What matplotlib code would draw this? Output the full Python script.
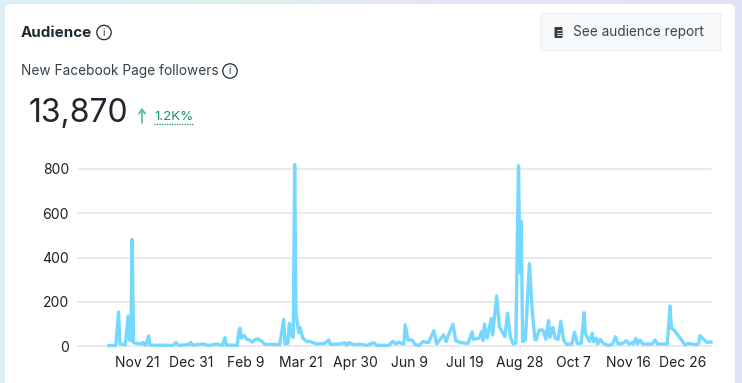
# -*- coding: utf-8 -*-
import matplotlib
matplotlib.use('Agg')
import matplotlib.pyplot as plt
from matplotlib.patches import FancyBboxPatch, Circle, Rectangle
from numpy import array, linspace, ones

# days since the start of the range, and followers gained that day
days = [0,5,7,8,12,14,15,16,17,18,23,25,26,27,29,30,47,49,51,58,60,61,69,73,79,83,85,86,94,95,96,97,99,101,103,105,
        107,109,112,114,125,126,128,129,131,132,133,134,135,136,137,139,140,142,145,147,152,158,161,162,169,
        173,174,176,179,184,189,194,196,205,208,210,212,216,217,219,222,224,227,230,234,238,240,245,247,249,252,
        254,258,263,266,267,271,273,274,275,277,280,281,284,286,288,290,292,294,296,298,300,301,302,303,305,308,
        310,312,313,315,318,320,322,323,325,327,329,331,333,335,339,341,343,346,348,349,352,354,355,357,358,360,
        362,366,369,371,373,376,377,379,381,383,384,386,387,389,391,398,400,402,409,411,412,414,417,419,422,424,
        427,430,432,433,436,438,441]
followers = [2,3,154,9,6,135,27,24,482,15,9,16,4,6,45,4,3,16,3,6,16,4,9,2,9,3,38,4,3,65,81,35,48,30,27,17,
             29,32,21,8,6,42,120,9,12,102,96,42,39,820,147,60,83,35,20,21,9,12,27,8,9,
             15,4,15,6,8,3,15,3,3,21,9,17,9,96,27,27,8,2,20,15,69,9,50,20,54,98,
             24,15,12,63,30,35,65,24,99,35,125,50,226,87,65,42,148,42,9,12,815,330,562,20,27,372,
             163,30,27,72,72,30,115,39,84,35,30,112,27,8,9,62,12,12,151,57,20,57,20,35,9,30,
             12,2,9,42,9,12,15,24,8,15,9,35,9,27,9,9,27,9,9,181,80,72,47,30,5,12,
             9,6,12,47,27,17,18]

tick_days = [20.5,60.5,100.5,140.5,180.5,220.5,260.5,300.5,340.5,380.5,420.5]
tick_labels = ['Nov 21','Dec 31','Feb 9','Mar 21','Apr 30','Jun 9','Jul 19','Aug 28','Oct 7','Nov 16','Dec 26']
y_ticks = [0,200,400,600,800]

W,H=742,383
plt.rcParams['font.family']=['Inter','DejaVu Sans']
fig=plt.figure(figsize=(W/100,H/100),dpi=100)

# page background and card, drawn in pixel coordinates
ui=fig.add_axes([0,0,1,1])
ui.set_xlim(0,W)
ui.set_ylim(H,0)
ui.axis('off')
grad=linspace(0,1,256).reshape(1,-1)
cm=matplotlib.colors.LinearSegmentedColormap.from_list('bg',['#dcf0f8','#e0eef0','#e4e4f6','#e0e2f8'])
ui.imshow(grad,extent=[0,W,H,0],aspect='auto',cmap=cm,zorder=0)
ui.set_xlim(0,W)
ui.set_ylim(H,0)
ui.add_patch(FancyBboxPatch((5,4),730,H+20,boxstyle='round,pad=0,rounding_size=5',fc='white',ec='none',zorder=1))

ink='#1c2b33'
ui.text(21,33,'Audience',fontsize=10.9,fontweight='bold',color=ink,va='center',zorder=3)
ui.add_patch(Circle((104,32.5),7.2,fc='none',ec=ink,lw=0.9,zorder=3))
ui.text(104,32.5,'i',fontsize=7,color=ink,ha='center',va='center',zorder=3)
ui.text(21,71,'New Facebook Page followers',fontsize=9.85,color='#33424c',va='center',zorder=3)
ui.add_patch(Circle((230,71),7.2,fc='none',ec=ink,lw=0.9,zorder=3))
ui.text(230,71,'i',fontsize=7,color=ink,ha='center',va='center',zorder=3)
ui.text(29,113,'13,870',fontsize=23,color='#20262c',va='center',zorder=3)
ui.annotate('',xy=(142,108),xytext=(142,123),zorder=3,
            arrowprops=dict(arrowstyle='->,head_width=0.22,head_length=0.3',color='#58b795',lw=1.2,shrinkA=0,shrinkB=0))
ui.text(154,117,'1.2K%',fontsize=9.6,color='#1f9268',va='center',zorder=3)
ui.plot([154,193],[123.5,123.5],color='#1f9268',lw=0.9,ls=(0,(1,1)),zorder=3)

# report button
ui.add_patch(Rectangle((540,13),180,37,fc='#f6f8fa',ec='#eceff2',lw=0.8,zorder=2))
ui.add_patch(FancyBboxPatch((554.5,27),8,11,boxstyle='round,pad=0,rounding_size=1',fc='#333c44',ec='none',zorder=3))
ui.plot([556.5,561],[30,30],color='white',lw=0.6,zorder=4)
ui.plot([556.5,561],[32.5,32.5],color='white',lw=0.6,zorder=4)
ui.plot([556.5,561],[35,35],color='white',lw=0.6,zorder=4)
ui.text(573,32,'See audience report',fontsize=9.8,color='#3a464f',va='center',zorder=3)

# the chart itself
ax=fig.add_axes([78/W,1-346/H,(711-78)/W,(346-169)/H])
ax.patch.set_alpha(0)
ax.plot(days,followers,color='#76d8ff',lw=2.4,solid_joinstyle='round',clip_on=False,zorder=3)
ax.set_xlim(-22.7,441)
ax.set_ylim(0,800)
ax.set_yticks(y_ticks)
ax.set_xticks(tick_days)
ax.set_xticklabels(tick_labels)
ax.tick_params(length=0,labelsize=10,labelcolor='#1c2024')
ax.tick_params(axis='x',pad=7)
ax.tick_params(axis='y',pad=6.5)
ax.grid(axis='y',color='#e4e4e4',lw=1.1,clip_on=False)
ax.set_axisbelow(True)
for s in ax.spines.values():
    s.set_visible(False)

plt.savefig('out.png',dpi=100)
